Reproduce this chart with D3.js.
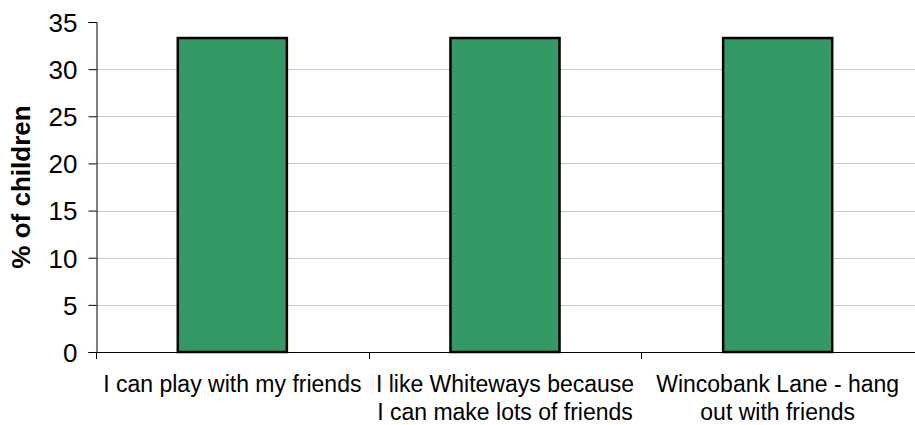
<!DOCTYPE html>
<html><head><meta charset="utf-8">
<script src="https://cdn.jsdelivr.net/npm/d3@7"></script>
<style>body{margin:0;background:#fff}svg text{font-family:"Liberation Sans",Arial,sans-serif}</style>
</head><body>
<svg id="c" width="915" height="425"></svg>
<script>
const categories = [
  ["I can play with my friends"],
  ["I like Whiteways because", "I can make lots of friends"],
  ["Wincobank Lane - hang", "out with friends"]
];
const values = [33.3, 33.3, 33.3];
const yTicks = [0, 5, 10, 15, 20, 25, 30, 35];
const yLabel = "% of children";

(function () {
const svg = d3.select("#c");
const mL = 96, mR = 915, mT = 22, mB = 352;
const x = d3.scaleBand().domain(d3.range(categories.length)).range([mL, mR - 1]).paddingInner(0.6).paddingOuter(0.3);
const xb = d3.scaleBand().domain(d3.range(categories.length)).range([mL, mR - 1]);
const y = d3.scaleLinear().domain([0, 35]).range([mB, mT]);

svg.append("g").selectAll("line").data(yTicks.filter(t => t > 0 && t < 35)).join("line")
  .attr("x1", mL).attr("x2", mR).attr("y1", d => Math.round(y(d)) + 0.5).attr("y2", d => Math.round(y(d)) + 0.5)
  .attr("stroke", "#c8c8c8").attr("stroke-width", 1);

svg.append("g").selectAll("rect").data(values).join("rect")
  .attr("x", (d, i) => x(i)).attr("width", x.bandwidth())
  .attr("y", d => y(d)).attr("height", d => y(0) - y(d))
  .attr("fill", "#359966").attr("stroke", "#000").attr("stroke-width", 2.5);

const ya = d3.axisLeft(y).tickValues(yTicks).tickSize(8).tickPadding(11);
const gy = svg.append("g").attr("transform", `translate(${mL + 0.5},0)`).call(ya);
gy.attr("font-family", null).attr("font-size", null);
gy.select(".domain").attr("stroke", "#000");
gy.selectAll(".tick line").attr("stroke", "#000");
gy.selectAll(".tick text").attr("font-size", 26).attr("fill", "#000").attr("dy", "0.36em");

const xa = svg.append("g");
xa.append("line").attr("x1", mL).attr("x2", mR).attr("y1", mB + 0.5).attr("y2", mB + 0.5).attr("stroke", "#000");
const bounds = d3.range(categories.length).map(i => xb(i));
xa.selectAll("line.t").data(bounds).join("line").attr("class", "t")
  .attr("x1", d => Math.round(d) + 0.5).attr("x2", d => Math.round(d) + 0.5)
  .attr("y1", mB).attr("y2", mB + 7).attr("stroke", "#000");

const lab = xa.selectAll("text.c").data(categories).join("text").attr("class", "c")
  .attr("x", (d, i) => xb(i) + xb.bandwidth() / 2).attr("y", 392)
  .attr("text-anchor", "middle").attr("font-size", 23).attr("fill", "#000");
lab.selectAll("tspan").data(d => d).join("tspan")
  .attr("x", function() { return this.parentNode.getAttribute("x"); })
  .attr("dy", (d, i) => i === 0 ? 0 : 28).text(d => d);

svg.append("text").attr("transform", `translate(30,${(mT + mB) / 2}) rotate(-90)`)
  .attr("text-anchor", "middle").attr("font-size", 26).attr("font-weight", "bold").attr("fill", "#000").text(yLabel);
})();
</script>
</body></html>
